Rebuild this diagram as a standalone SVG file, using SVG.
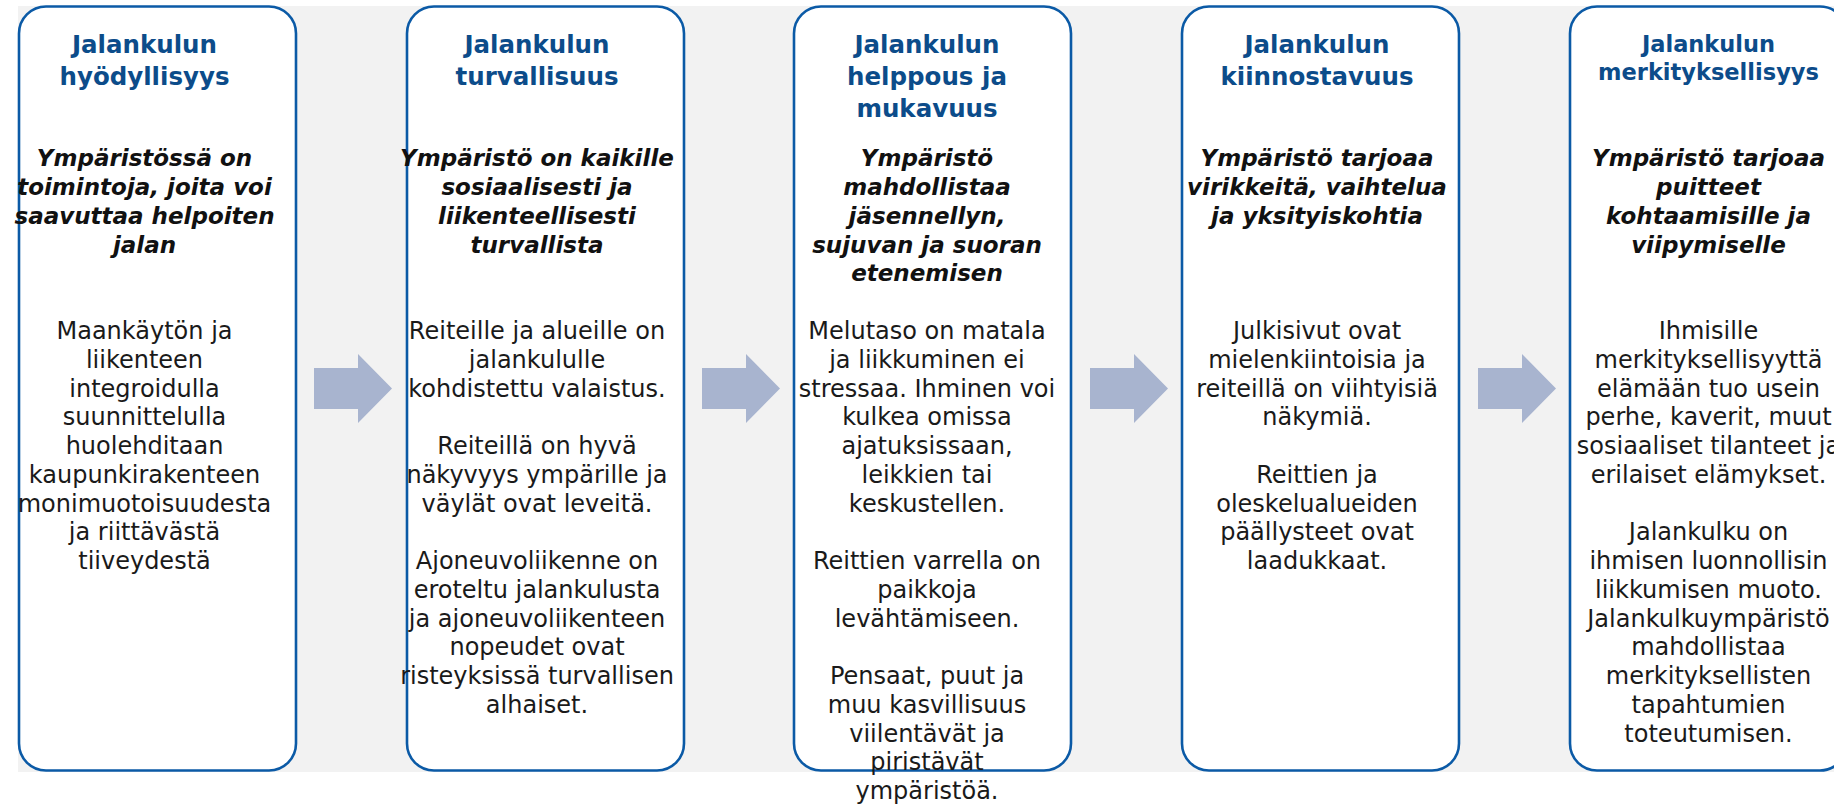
<svg xmlns="http://www.w3.org/2000/svg" width="1834" height="804" viewBox="0 0 1834 804">
<style>
.box{fill:#ffffff;stroke:#0B5AA6;stroke-width:2.6}
.h{font-family:"DejaVu Sans","Liberation Sans",sans-serif;font-weight:bold;font-size:24.5px;fill:#0C4C8A;text-anchor:middle}
.h5{font-size:22.5px}
.s{font-family:"DejaVu Sans","Liberation Sans",sans-serif;font-weight:bold;font-style:italic;font-size:23px;fill:#111111;text-anchor:middle}
.b{font-family:"DejaVu Sans","Liberation Sans",sans-serif;font-size:24px;fill:#1A1A1A;text-anchor:middle}
.arrow{fill:#A8B4CF}
</style>
<rect x="0" y="0" width="1834" height="804" fill="#ffffff"/>
<rect x="18" y="6" width="1816" height="766" fill="#F2F2F2"/>

<g id="connectors">
<polygon class="arrow" points="314,368 358,368 358,354 392,388.5 358,423 358,409 314,409"/>
<polygon class="arrow" points="702,368 746,368 746,354 780,388.5 746,423 746,409 702,409"/>
<polygon class="arrow" points="1090,368 1134,368 1134,354 1168,388.5 1134,423 1134,409 1090,409"/>
<polygon class="arrow" points="1478,368 1522,368 1522,354 1556,388.5 1522,423 1522,409 1478,409"/>
</g>

<g id="node-1">
<rect class="box" x="19" y="6.5" width="277" height="764" rx="27"/>
<text class="h" x="144.5" y="53">Jalankulun</text>
<text class="h" x="144.5" y="85">hyödyllisyys</text>
<text class="s" x="144.5" y="166">Ympäristössä on</text>
<text class="s" x="144.5" y="195">toimintoja, joita voi</text>
<text class="s" x="144.5" y="223.5">saavuttaa helpoiten</text>
<text class="s" x="144.5" y="252.5">jalan</text>
<text class="b" x="144.5" y="339">Maankäytön ja</text>
<text class="b" x="144.5" y="367.75">liikenteen</text>
<text class="b" x="144.5" y="396.5">integroidulla</text>
<text class="b" x="144.5" y="425.25">suunnittelulla</text>
<text class="b" x="144.5" y="454">huolehditaan</text>
<text class="b" x="144.5" y="482.75">kaupunkirakenteen</text>
<text class="b" x="144.5" y="511.5">monimuotoisuudesta</text>
<text class="b" x="144.5" y="540.25">ja riittävästä</text>
<text class="b" x="144.5" y="569">tiiveydestä</text>
</g>

<g id="node-2">
<rect class="box" x="407" y="6.5" width="277" height="764" rx="27"/>
<text class="h" x="537" y="53">Jalankulun</text>
<text class="h" x="537" y="85">turvallisuus</text>
<text class="s" x="537" y="166">Ympäristö on kaikille</text>
<text class="s" x="537" y="195">sosiaalisesti ja</text>
<text class="s" x="537" y="223.5">liikenteellisesti</text>
<text class="s" x="537" y="252.5">turvallista</text>
<text class="b" x="537" y="339">Reiteille ja alueille on</text>
<text class="b" x="537" y="367.75">jalankululle</text>
<text class="b" x="537" y="396.5">kohdistettu valaistus.</text>
<text class="b" x="537" y="454">Reiteillä on hyvä</text>
<text class="b" x="537" y="482.75">näkyvyys ympärille ja</text>
<text class="b" x="537" y="511.5">väylät ovat leveitä.</text>
<text class="b" x="537" y="569">Ajoneuvoliikenne on</text>
<text class="b" x="537" y="597.75">eroteltu jalankulusta</text>
<text class="b" x="537" y="626.5">ja ajoneuvoliikenteen</text>
<text class="b" x="537" y="655.25">nopeudet ovat</text>
<text class="b" x="537" y="684">risteyksissä turvallisen</text>
<text class="b" x="537" y="712.75">alhaiset.</text>
</g>

<g id="node-3">
<rect class="box" x="794" y="6.5" width="277" height="764" rx="27"/>
<text class="h" x="927" y="53">Jalankulun</text>
<text class="h" x="927" y="85">helppous ja</text>
<text class="h" x="927" y="117">mukavuus</text>
<text class="s" x="927" y="166">Ympäristö</text>
<text class="s" x="927" y="195">mahdollistaa</text>
<text class="s" x="927" y="223.5">jäsennellyn,</text>
<text class="s" x="927" y="252.5">sujuvan ja suoran</text>
<text class="s" x="927" y="281">etenemisen</text>
<text class="b" x="927" y="339">Melutaso on matala</text>
<text class="b" x="927" y="367.75">ja liikkuminen ei</text>
<text class="b" x="927" y="396.5">stressaa. Ihminen voi</text>
<text class="b" x="927" y="425.25">kulkea omissa</text>
<text class="b" x="927" y="454">ajatuksissaan,</text>
<text class="b" x="927" y="482.75">leikkien tai</text>
<text class="b" x="927" y="511.5">keskustellen.</text>
<text class="b" x="927" y="569">Reittien varrella on</text>
<text class="b" x="927" y="597.75">paikkoja</text>
<text class="b" x="927" y="626.5">levähtämiseen.</text>
<text class="b" x="927" y="684">Pensaat, puut ja</text>
<text class="b" x="927" y="712.75">muu kasvillisuus</text>
<text class="b" x="927" y="741.5">viilentävät ja</text>
<text class="b" x="927" y="770.25">piristävät</text>
<text class="b" x="927" y="799">ympäristöä.</text>
</g>

<g id="node-4">
<rect class="box" x="1182" y="6.5" width="277" height="764" rx="27"/>
<text class="h" x="1317" y="53">Jalankulun</text>
<text class="h" x="1317" y="85">kiinnostavuus</text>
<text class="s" x="1317" y="166">Ympäristö tarjoaa</text>
<text class="s" x="1317" y="195">virikkeitä, vaihtelua</text>
<text class="s" x="1317" y="223.5">ja yksityiskohtia</text>
<text class="b" x="1317" y="339">Julkisivut ovat</text>
<text class="b" x="1317" y="367.75">mielenkiintoisia ja</text>
<text class="b" x="1317" y="396.5">reiteillä on viihtyisiä</text>
<text class="b" x="1317" y="425.25">näkymiä.</text>
<text class="b" x="1317" y="482.75">Reittien ja</text>
<text class="b" x="1317" y="511.5">oleskelualueiden</text>
<text class="b" x="1317" y="540.25">päällysteet ovat</text>
<text class="b" x="1317" y="569">laadukkaat.</text>
</g>

<g id="node-5">
<rect class="box" x="1570" y="6.5" width="277" height="764" rx="27"/>
<text class="h h5" x="1708.5" y="51.5">Jalankulun</text>
<text class="h h5" x="1708.5" y="80">merkityksellisyys</text>
<text class="s" x="1708.5" y="166">Ympäristö tarjoaa</text>
<text class="s" x="1708.5" y="195">puitteet</text>
<text class="s" x="1708.5" y="223.5">kohtaamisille ja</text>
<text class="s" x="1708.5" y="252.5">viipymiselle</text>
<text class="b" x="1708.5" y="339">Ihmisille</text>
<text class="b" x="1708.5" y="367.75">merkityksellisyyttä</text>
<text class="b" x="1708.5" y="396.5">elämään tuo usein</text>
<text class="b" x="1708.5" y="425.25">perhe, kaverit, muut</text>
<text class="b" x="1708.5" y="454">sosiaaliset tilanteet ja</text>
<text class="b" x="1708.5" y="482.75">erilaiset elämykset.</text>
<text class="b" x="1708.5" y="540.25">Jalankulku on</text>
<text class="b" x="1708.5" y="569">ihmisen luonnollisin</text>
<text class="b" x="1708.5" y="597.75">liikkumisen muoto.</text>
<text class="b" x="1708.5" y="626.5">Jalankulkuympäristö</text>
<text class="b" x="1708.5" y="655.25">mahdollistaa</text>
<text class="b" x="1708.5" y="684">merkityksellisten</text>
<text class="b" x="1708.5" y="712.75">tapahtumien</text>
<text class="b" x="1708.5" y="741.5">toteutumisen.</text>
</g>
</svg>
